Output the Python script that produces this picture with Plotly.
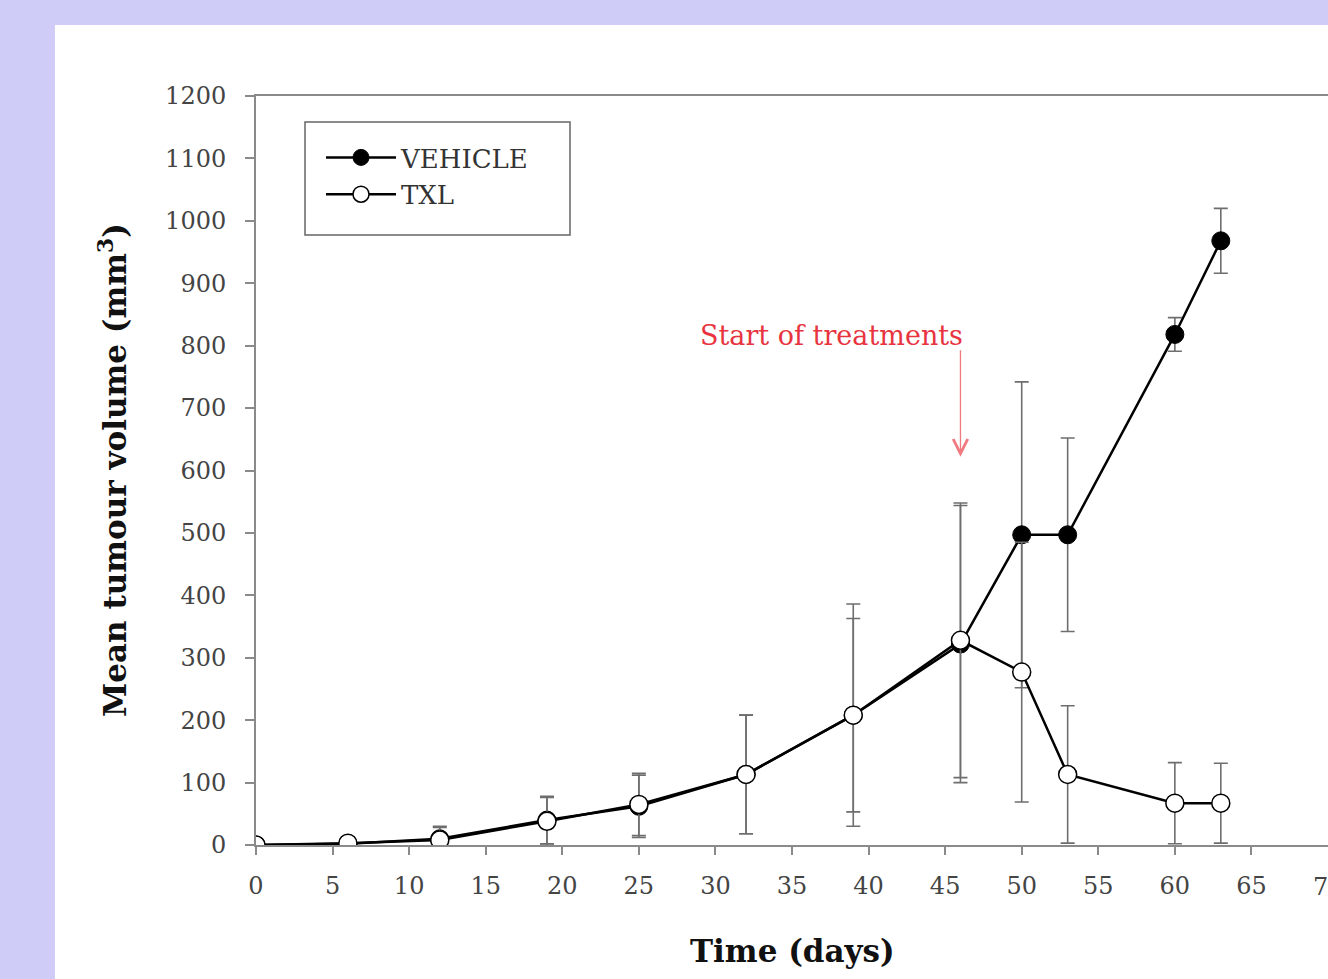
import plotly.graph_objects as go

days = [0, 6, 12, 19, 25, 32, 39, 46, 50, 53, 60, 63]
vehicle = [0, 2, 10, 40, 62, 113, 208, 322, 497, 497, 818, 968]
vehicle_err = [0, 2, 20, 38, 50, 95, 178, 222, 245, 155, 27, 52]
txl = [0, 3, 8, 38, 65, 113, 208, 328, 277, 113, 67, 67]
txl_err = [0, 3, 20, 38, 50, 95, 155, 220, 208, 110, 65, 64]

x_ticks = list(range(0, 75, 5))
y_ticks = list(range(0, 1300, 100))

W, H = 1328, 979
L, R, T, B = 256, 0, 96, 134
pw, ph = W - L - R, H - T - B

def px_x(p):
    return (p - L) / pw

def px_y(p):
    return (H - B - p) / ph

serif = "DejaVu Serif"

fig = go.Figure()
fig.add_trace(go.Scatter(
    x=days, y=vehicle, name="VEHICLE", mode="lines+markers",
    line=dict(color="black", width=2.5),
    marker=dict(symbol="circle", size=18, color="black", line=dict(color="black", width=1)),
    error_y=dict(type="data", array=vehicle_err, visible=True, color="#6e6e6e", thickness=1.6, width=7),
))
fig.add_trace(go.Scatter(
    x=days, y=txl, name="TXL", mode="lines+markers",
    line=dict(color="black", width=2.5),
    marker=dict(symbol="circle", size=18, color="white", line=dict(color="black", width=1.5)),
    error_y=dict(type="data", array=txl_err, visible=True, color="#6e6e6e", thickness=1.6, width=7),
))

# white panel
fig.add_shape(type="rect", xref="paper", yref="paper",
              x0=px_x(55), x1=1.05, y0=px_y(1000), y1=px_y(25),
              fillcolor="white", line=dict(width=0), layer="below")
# legend frame
fig.add_shape(type="rect", xref="paper", yref="paper",
              x0=px_x(305), x1=px_x(570), y0=px_y(235), y1=px_y(122),
              fillcolor="rgba(0,0,0,0)", line=dict(color="#666", width=1.5), layer="above")

fig.add_annotation(x=37.6, y=816, xref="x", yref="y", text="Start of treatments",
                   showarrow=False, font=dict(family=serif, size=27, color="#e8343f"))
fig.add_annotation(x=46, y=622, ax=46, ay=795, xref="x", yref="y", axref="x", ayref="y",
                   text="", showarrow=True, arrowhead=5, arrowsize=2.2, arrowwidth=1.3,
                   arrowcolor="#f07a80")

# partially visible last x tick label (cut by the image edge)
fig.add_annotation(x=70, y=px_y(887), xref="x", yref="paper", text="70",
                   showarrow=False, xanchor="center", yanchor="middle",
                   font=dict(family=serif, size=24, color="#444"))

fig.add_annotation(x=0.5, y=px_y(951), xref="paper", yref="paper", text="<b>Time (days)</b>",
                   showarrow=False, xanchor="center", yanchor="middle",
                   font=dict(family=serif, size=31, color="#111"))
fig.add_annotation(x=px_x(113), y=px_y(470), xref="paper", yref="paper",
                   text="<b>Mean tumour volume (mm<sup>3</sup>)</b>", textangle=-90,
                   showarrow=False, xanchor="center", yanchor="middle",
                   font=dict(family=serif, size=31, color="#111"))

fig.update_layout(
    width=W, height=H,
    margin=dict(l=L, r=R, t=T, b=B),
    paper_bgcolor="#cfcdf7", plot_bgcolor="white",
    showlegend=True,
    legend=dict(x=px_x(321), y=px_y(134), xanchor="left", yanchor="top",
                borderwidth=0, bgcolor="rgba(255,255,255,0)",
                font=dict(family=serif, size=26, color="#333"),
                itemwidth=70, tracegroupgap=0),
    xaxis=dict(range=[0, 70], tickvals=x_ticks[:-1], ticktext=[str(v) for v in x_ticks[:-1]],
               showgrid=False, zeroline=False, showline=True, linecolor="#8a8a8a", linewidth=2,
               mirror=True, ticks="outside", ticklen=8, tickcolor="#8a8a8a", tickwidth=1.5,
               tickfont=dict(family=serif, size=24, color="#444"), ticklabelstandoff=10),
    yaxis=dict(range=[0, 1200], tickvals=y_ticks, ticktext=[str(v) for v in y_ticks],
               showgrid=False, zeroline=False, showline=True, linecolor="#8a8a8a", linewidth=2,
               ticks="outside", ticklen=9, tickcolor="#8a8a8a", tickwidth=1.5,
               tickfont=dict(family=serif, size=24, color="#444"), ticklabelstandoff=14),
)

fig.write_html("out.html")
